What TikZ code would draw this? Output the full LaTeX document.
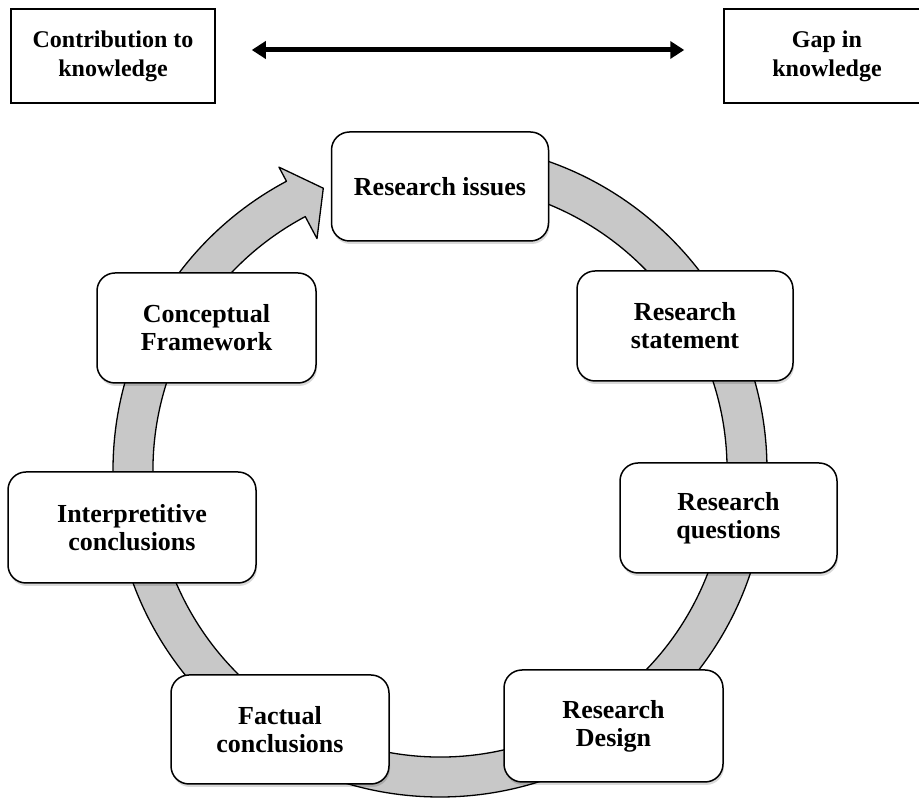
\documentclass[tikz,border=0pt]{standalone}
\usepackage{fontspec}
\setmainfont{Liberation Serif}
\usetikzlibrary{arrows.meta,shadows,calc}
\definecolor{ringgray}{HTML}{C8C8C8}
\tikzset{
  topbox/.style={draw=black, line width=1.5pt, fill=white, minimum width=204pt, minimum height=94pt,
    align=center, inner sep=0pt, font=\fontsize{24}{29}\selectfont\bfseries},
  cyclebox/.style={draw=black, line width=1.5pt, fill=white, rounded corners=18pt,
    minimum width=218pt, minimum height=110pt, align=center, inner sep=0pt,
    font=\fontsize{26}{28}\selectfont\bfseries,
    drop shadow={shadow xshift=1pt, shadow yshift=-3pt, fill=black, opacity=0.15}},
  ring/.style={draw=black, line width=1.3pt, fill=ringgray, line join=round},
  bigarrow/.style={line width=5pt, {Triangle[length=14pt,width=17pt]}-{Triangle[length=14pt,width=17pt]}}
}
\begin{document}
\begin{tikzpicture}[x=1pt,y=1pt]
\useasboundingbox (0,0) rectangle (919,803);
\clip (0,0) rectangle (919,803);
\fill[white] (0,0) rectangle (919,803);
% top boxes
\node[topbox] (contrib) at (113,747) {Contribution to\\knowledge};
\node[topbox, minimum width=206pt] (gap) at (827,747) {Gap in\\knowledge};
\draw[bigarrow, shorten <=36pt, shorten >=39pt] ([yshift=6pt]contrib.east) -- ([yshift=6pt]gap.west);
% ring arrow
\coordinate (c) at (440,333);
\draw[ring] ($(c)+(90:327pt)$) arc[start angle=90, end angle=-242, radius=327pt]
  -- ($(c)+(-242:343pt)$) -- ($(c)+(-247.5:305pt)$) -- ($(c)+(-242:262pt)$)
  -- ($(c)+(-242:287pt)$) arc[start angle=-242, end angle=90, radius=287pt] -- cycle;
% cycle boxes
\node[cyclebox, minimum width=217pt, minimum height=109pt] (issues) at (440,616.5) {Research issues};
\node[cyclebox, minimum width=216pt] (statement) at (685,477) {Research\\statement};
\node[cyclebox, minimum width=217pt] (questions) at (728.5,285) {Research\\questions};
\node[cyclebox, minimum width=219pt, minimum height=112pt] (design) at (613.5,77) {Research\\Design};
\node[cyclebox, minimum height=109pt] (factual) at (280,73.5) {Factual\\conclusions};
\node[cyclebox, minimum width=248pt, minimum height=111pt] (interp) at (132,275.5) {Interpretitive\\conclusions};
\node[cyclebox, minimum width=219pt] (concept) at (206.5,475) {Conceptual\\Framework};
\end{tikzpicture}
\end{document}
